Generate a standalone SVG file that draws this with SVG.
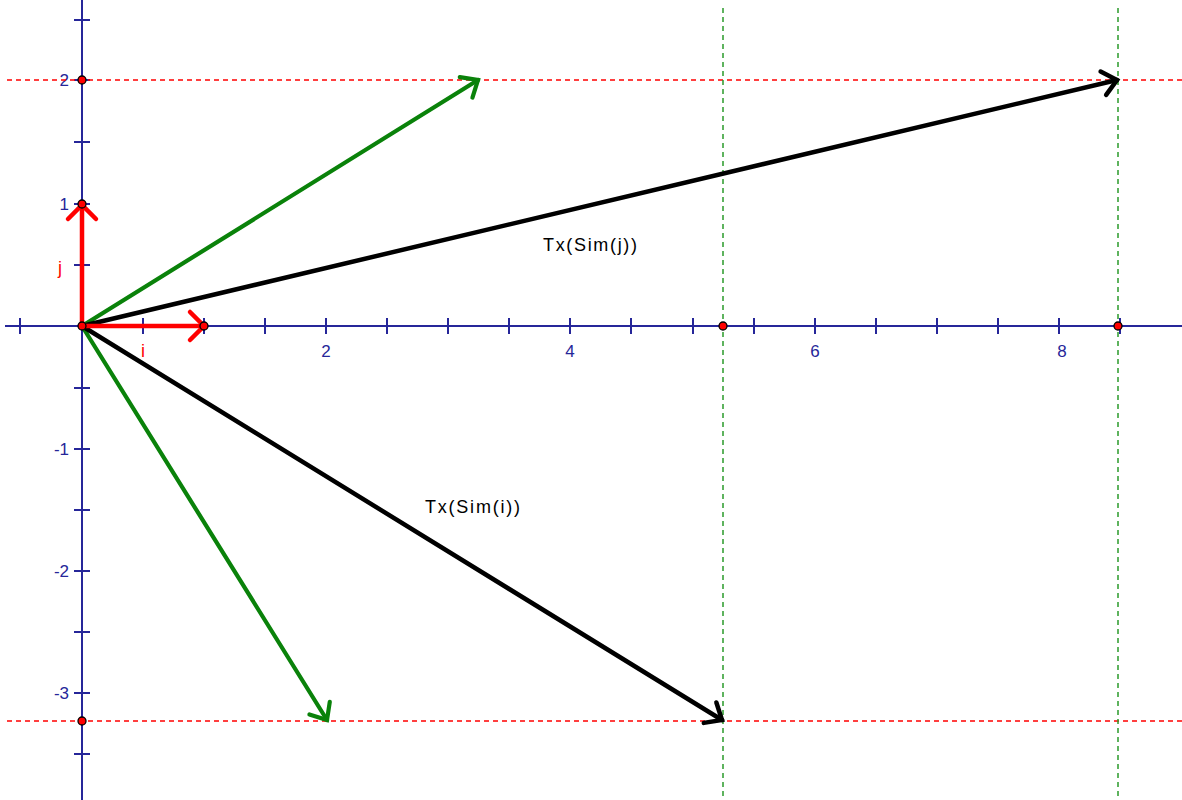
<svg xmlns="http://www.w3.org/2000/svg" width="1182" height="800" viewBox="0 0 1182 800">
<style>
.axis{stroke:#262699;stroke-width:2;fill:none}
.tick{stroke:#262699;stroke-width:2}
.num{font-family:"Liberation Sans",Arial,sans-serif;font-size:17px;fill:#262699}
.lab{font-family:"Liberation Sans",Arial,sans-serif;font-size:18px;fill:#000}
.rl{font-family:"Liberation Sans",Arial,sans-serif;font-size:18px;fill:#ff0000}
.rdash{stroke:#ff0000;stroke-width:1.3;stroke-dasharray:5 4;fill:none}
.gdash{stroke:#2a9a2a;stroke-width:1.5;stroke-dasharray:5 4;fill:none}
.pt{fill:#ff0000;stroke:#000;stroke-width:1.3}
.vr{stroke:#ff0000;stroke-width:4.5;stroke-linecap:round;fill:none}
.vg{stroke:#0a820a;stroke-width:4.2;stroke-linecap:round;fill:none}
.vb{stroke:#000;stroke-width:4.5;stroke-linecap:round;fill:none}
</style>
<defs>
<marker id="ar" markerUnits="userSpaceOnUse" markerWidth="40" markerHeight="40" refX="0" refY="0" viewBox="-20 -20 40 40" orient="auto" overflow="visible"><path d="M-14,-14 L0,0 L-14,14" fill="none" stroke="#ff0000" stroke-width="4.5" stroke-linecap="round"/></marker>
<marker id="ag" markerUnits="userSpaceOnUse" markerWidth="40" markerHeight="40" refX="0" refY="0" viewBox="-20 -20 40 40" orient="auto" overflow="visible"><path d="M-14,-12 L0,0 L-14,12" fill="none" stroke="#0a820a" stroke-width="4.2" stroke-linecap="round"/></marker>
<marker id="ab" markerUnits="userSpaceOnUse" markerWidth="40" markerHeight="40" refX="0" refY="0" viewBox="-20 -20 40 40" orient="auto" overflow="visible"><path d="M-14,-12 L0,0 L-14,12" fill="none" stroke="#000" stroke-width="4.5" stroke-linecap="round"/></marker>
</defs>
<rect width="1182" height="800" fill="#fff"/>
<g id="axes">
<line class="axis" x1="5" y1="326" x2="1182" y2="326"/>
<line class="axis" x1="82" y1="0" x2="82" y2="800"/>
<g class="tick">
<line x1="20" y1="318" x2="20" y2="334"/><line x1="143" y1="318" x2="143" y2="334"/><line x1="204" y1="318" x2="204" y2="334"/><line x1="265" y1="318" x2="265" y2="334"/><line x1="326" y1="318" x2="326" y2="334"/><line x1="387" y1="318" x2="387" y2="334"/><line x1="448" y1="318" x2="448" y2="334"/><line x1="509" y1="318" x2="509" y2="334"/><line x1="570" y1="318" x2="570" y2="334"/><line x1="631" y1="318" x2="631" y2="334"/><line x1="693" y1="318" x2="693" y2="334"/><line x1="754" y1="318" x2="754" y2="334"/><line x1="815" y1="318" x2="815" y2="334"/><line x1="876" y1="318" x2="876" y2="334"/><line x1="937" y1="318" x2="937" y2="334"/><line x1="998" y1="318" x2="998" y2="334"/><line x1="1059" y1="318" x2="1059" y2="334"/><line x1="1120" y1="318" x2="1120" y2="334"/>
<line x1="74" y1="20" x2="90" y2="20"/><line x1="74" y1="80" x2="90" y2="80"/><line x1="74" y1="142" x2="90" y2="142"/><line x1="74" y1="204" x2="90" y2="204"/><line x1="74" y1="265" x2="90" y2="265"/><line x1="74" y1="388" x2="90" y2="388"/><line x1="74" y1="449" x2="90" y2="449"/><line x1="74" y1="510" x2="90" y2="510"/><line x1="74" y1="571" x2="90" y2="571"/><line x1="74" y1="632" x2="90" y2="632"/><line x1="74" y1="693" x2="90" y2="693"/><line x1="74" y1="754" x2="90" y2="754"/>
</g>
<g class="num">
<text x="326" y="357" text-anchor="middle">2</text>
<text x="570" y="357" text-anchor="middle">4</text>
<text x="815" y="357" text-anchor="middle">6</text>
<text x="1062" y="357" text-anchor="middle">8</text>
<text x="69" y="86" text-anchor="end">2</text>
<text x="69" y="210" text-anchor="end">1</text>
<text x="69" y="455" text-anchor="end">-1</text>
<text x="69" y="577" text-anchor="end">-2</text>
<text x="69" y="699" text-anchor="end">-3</text>
</g>
</g>
<g id="guides">
<line class="rdash" x1="7" y1="80" x2="1182" y2="80"/>
<line class="rdash" x1="7" y1="721" x2="1182" y2="721"/>
<line class="gdash" x1="723" y1="8" x2="723" y2="800"/>
<line class="gdash" x1="1118" y1="8" x2="1118" y2="800"/>
</g>
<g id="connectors">
<line class="vg" x1="82" y1="326" x2="478" y2="80" marker-end="url(#ag)"/>
<line class="vg" x1="82" y1="326" x2="327" y2="720" marker-end="url(#ag)"/>
<line class="vb" x1="82" y1="326" x2="1117" y2="80" marker-end="url(#ab)"/>
<line class="vb" x1="82" y1="326" x2="722" y2="720" marker-end="url(#ab)"/>
<line class="vr" x1="82" y1="326" x2="204" y2="326" marker-end="url(#ar)"/>
<line class="vr" x1="82" y1="326" x2="82" y2="205" marker-end="url(#ar)"/>
</g>
<g id="points">
<circle class="pt" cx="82" cy="80" r="4"/>
<circle class="pt" cx="82" cy="204" r="4"/>
<circle class="pt" cx="82" cy="326" r="4"/>
<circle class="pt" cx="204" cy="326" r="4"/>
<circle class="pt" cx="723" cy="326" r="4"/>
<circle class="pt" cx="1118" cy="326" r="4"/>
<circle class="pt" cx="82" cy="721" r="4"/>
</g>
<g id="labels">
<text class="rl" x="58" y="274">j</text>
<text class="rl" x="141" y="357">i</text>
<text class="lab" x="543" y="251" textLength="94" lengthAdjust="spacing">Tx(Sim(j))</text>
<text class="lab" x="425" y="513" textLength="95" lengthAdjust="spacing">Tx(Sim(i))</text>
</g>
</svg>
